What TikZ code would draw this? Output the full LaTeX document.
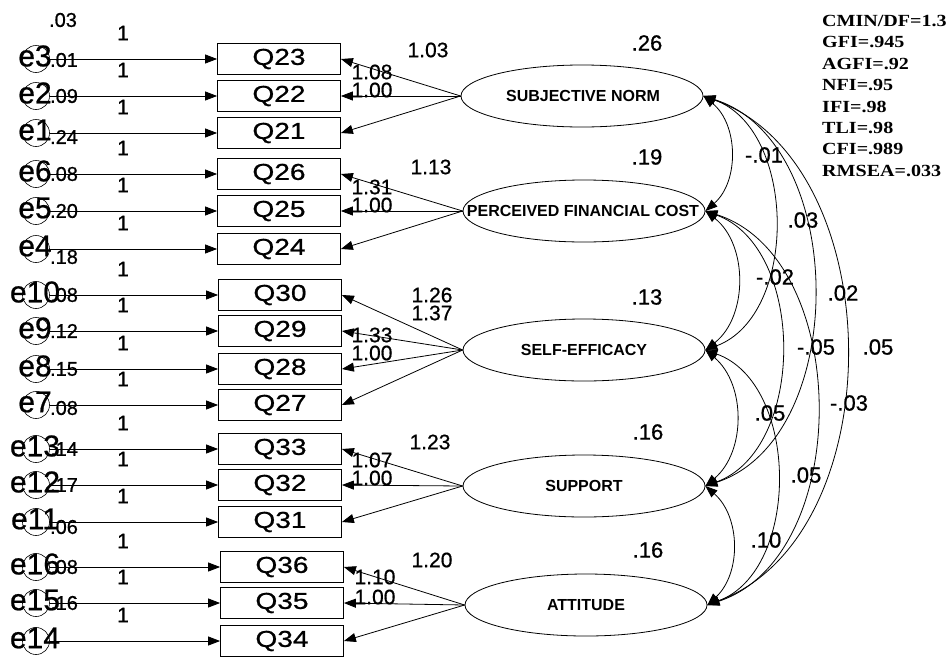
\documentclass[tikz,border=0pt]{standalone}
\usepackage{fontspec}
\setmainfont{Liberation Sans}
\newfontfamily\qfont{Liberation Sans}[FakeStretch=1.22,FakeBold=0.8]
\newfontfamily\nfont{Liberation Sans}[FakeBold=0.7]
\newfontfamily\fitfont{Liberation Serif}[FakeStretch=1.18]
\usetikzlibrary{arrows.meta,shapes.geometric}
\begin{document}
\begin{tikzpicture}[x=1pt,y=-1pt,
  every node/.style={inner sep=0pt},
  line/.style={line width=0.8pt},
  tip/.style={-{Triangle[length=12pt,width=9pt]}},
  dtip/.style={{Triangle[length=12pt,width=9pt]}-{Triangle[length=12pt,width=9pt]}},
  qbox/.style={draw, line width=0.8pt, minimum width=123pt, minimum height=31pt, font=\qfont\fontsize{23}{23}\selectfont},
  errc/.style={circle, draw, line width=0.6pt, minimum size=27pt},
  elab/.style={font=\nfont\fontsize{30}{30}\selectfont},
  vlab/.style={font=\nfont\fontsize{20}{20}\selectfont},
  onelab/.style={font=\nfont\fontsize{21}{21}\selectfont},
  wlab/.style={font=\nfont\fontsize{21}{21}\selectfont},
  lat/.style={ellipse, draw, line width=0.8pt, minimum width=242pt, minimum height=62pt, inner sep=0pt},
  latlab/.style={font=\bfseries\fontsize{16}{16}\selectfont},
  clab/.style={font=\nfont\fontsize{22}{22}\selectfont},
  fitlab/.style={font=\fitfont\bfseries\fontsize{17}{17}\selectfont, anchor=west}
]
\fill[white] (0,0) rectangle (949,656);
\useasboundingbox (0,0) rectangle (949,656);

% indicators and errors
\foreach \q/\e/\y/\v/\dv/\bx in {
 23/3/59/.01/1/279, 22/2/96/.09/0/279, 21/1/133/.24/4/279,
 26/6/174/.08/0/279, 25/5/211/.20/0/279, 24/4/249/.18/8/279,
 30/10/295/.08/0/280, 29/9/331/.12/0/280, 28/8/369/.15/0/280, 27/7/405/.08/3/280,
 33/13/449/.14/0/280, 32/12/485/.17/0/280, 31/11/522/.06/5/280,
 36/16/567/.08/0/282, 35/15/603/.16/0/282, 34/14/641//0/282}{
  \node[qbox] (q\q) at (\bx,\y) {Q\q};
  \node[errc] (e\e) at (36,\y) {};
  \node[elab] (el\e) at (35,\y-3) {e\e};
  \node[vlab] (v\e) at (64,\y+\dv) {\v};
  \node[onelab] (one\e) at (123,\y-26) {1};
  \draw[line,tip] (e\e) -- (q\q);
}
\node[vlab] (topvar) at (63,20) {.03};

% latent variables
\node[lat] (SN) at (582,96) {};
\node[latlab] (SNt) at (583,96) {SUBJECTIVE NORM};
\node[lat] (PFC) at (584,211) {};
\node[latlab] (PFCt) at (583,211) {PERCEIVED FINANCIAL COST};
\node[lat] (SE) at (584,350) {};
\node[latlab] (SEt) at (584,350) {SELF-EFFICACY};
\node[lat] (SUP) at (584,486) {};
\node[latlab] (SUPt) at (584,486) {SUPPORT};
\node[lat] (ATT) at (586,605) {};
\node[latlab] (ATTt) at (586,605) {ATTITUDE};

% loadings
\foreach \l/\q in {SN/23,SN/22,SN/21,PFC/26,PFC/25,PFC/24,SE/30,SE/29,SE/28,SE/27,SUP/33,SUP/32,SUP/31,ATT/36,ATT/35,ATT/34}{
  \draw[line,tip] (\l.west) -- (q\q.east);
}

% loading labels
\node[wlab] (w1a) at (428,50) {1.03};
\node[wlab] (w1b) at (372,72) {1.08};
\node[wlab] (w1c) at (372,90) {1.00};
\node[wlab] (w2a) at (431,167) {1.13};
\node[wlab] (w2b) at (372,187) {1.31};
\node[wlab] (w2c) at (372,205) {1.00};
\node[wlab] (w3a) at (432,295) {1.26};
\node[wlab] (w3b) at (432,313) {1.37};
\node[wlab] (w3c) at (372,335) {1.33};
\node[wlab] (w3d) at (372,353) {1.00};
\node[wlab] (w4a) at (430,442) {1.23};
\node[wlab] (w4b) at (372,460) {1.07};
\node[wlab] (w4c) at (372,478) {1.00};
\node[wlab] (w5a) at (432,560) {1.20};
\node[wlab] (w5b) at (375,577) {1.10};
\node[wlab] (w5c) at (375,597) {1.00};

% latent variances
\node[clab] (vSN) at (647,43) {.26};
\node[clab] (vPFC) at (647,157) {.19};
\node[clab] (vSE) at (647,297) {.13};
\node[clab] (vSUP) at (648,432) {.16};
\node[clab] (vATT) at (648,550) {.16};

% covariances
\draw[line,dtip] (SN.east) to[bend left=50] (PFC.east);
\draw[line,dtip] (PFC.east) to[bend left=52] (SE.east);
\draw[line,dtip] (SE.east) to[bend left=50] (SUP.east);
\draw[line,dtip] (SUP.east) to[bend left=48] (ATT.east);
\draw[line,dtip] (SN.east) to[bend left=70] (SE.east);
\draw[line,dtip] (PFC.east) to[bend left=70] (SUP.east);
\draw[line,dtip] (SE.east) to[bend left=70] (ATT.east);
\draw[line,dtip] (SN.east) to[bend left=72] (SUP.east);
\draw[line,dtip] (PFC.east) to[bend left=72] (ATT.east);
\draw[line,dtip] (SN.east) to[bend left=70] (ATT.east);

\node[clab] (c12) at (764,155) {-.01};
\node[clab] (c13) at (803,220) {.03};
\node[clab] (c14) at (843,293) {.02};
\node[clab] (c15) at (878,347) {.05};
\node[clab] (c23) at (775,277) {-.02};
\node[clab] (c24) at (816,347) {-.05};
\node[clab] (c25) at (849,403) {-.03};
\node[clab] (c34) at (770,413) {.05};
\node[clab] (c35) at (806,475) {.05};
\node[clab] (c45) at (766,540) {.10};

% fit statistics
\node[fitlab] (f1) at (822,21) {CMIN/DF=1.3};
\node[fitlab] (f2) at (822,42.4) {GFI=.945};
\node[fitlab] (f3) at (822,63.8) {AGFI=.92};
\node[fitlab] (f4) at (822,85.2) {NFI=.95};
\node[fitlab] (f5) at (822,106.6) {IFI=.98};
\node[fitlab] (f6) at (822,128) {TLI=.98};
\node[fitlab] (f7) at (822,149.4) {CFI=.989};
\node[fitlab] (f8) at (822,170.8) {RMSEA=.033};
\end{tikzpicture}
\end{document}
